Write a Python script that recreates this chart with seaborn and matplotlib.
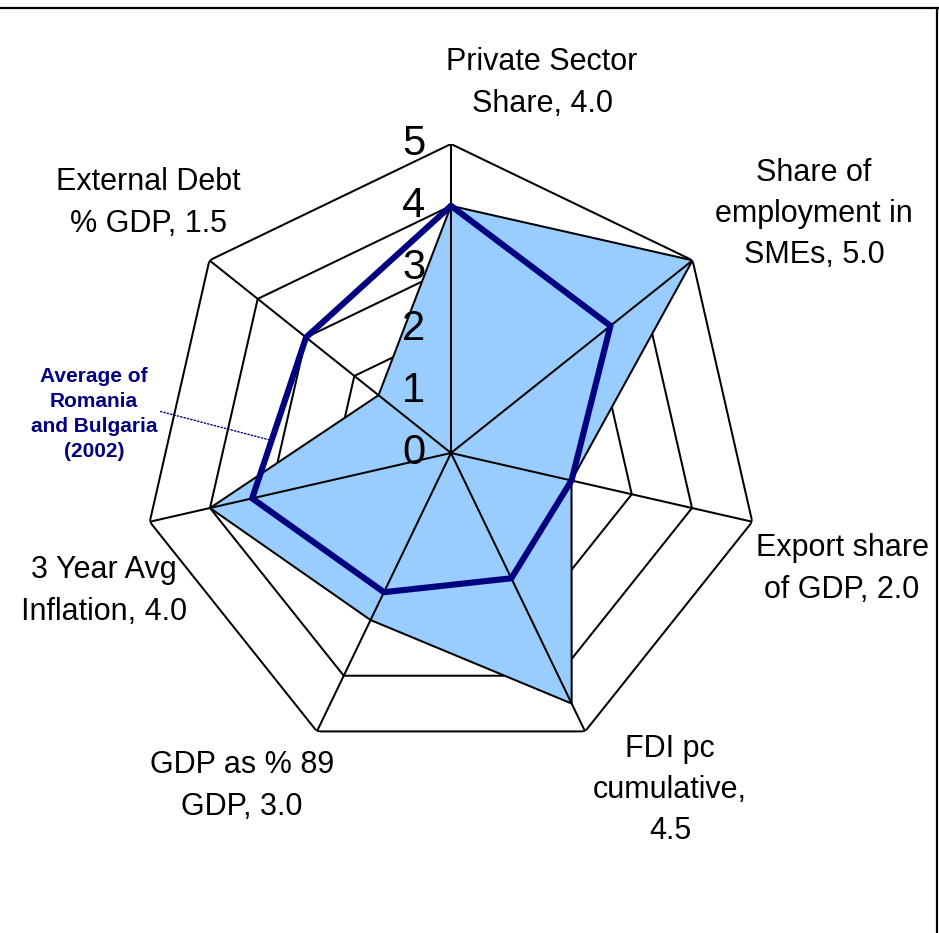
import numpy as np
import pandas as pd
import matplotlib
matplotlib.use("Agg")
import matplotlib.pyplot as plt
import seaborn as sns
from matplotlib.lines import Line2D

# ---------------- data ----------------
categories = ["Private Sector\nShare", "Share of\nemployment in\nSMEs", "Export share\nof GDP",
              "FDI pc\ncumulative", "GDP as % 89\nGDP", "3 Year Avg\nInflation",
              "External Debt\n% GDP"]
label_separators = [", ", ", ", ", ", ",\n", ", ", ", ", ", "]
country_scores = [4.0, 5.0, 2.0, 4.5, 3.0, 4.0, 1.5]
benchmark_scores = [4.0, 3.3, 2.0, 2.25, 2.5, 3.3, 3.0]
benchmark_name = "Average of\nRomania\nand Bulgaria\n(2002)"
radial_ticks = [0, 1, 2, 3, 4, 5]

# ---------------- layout / style ----------------
W, H = 939, 933
center_px = (451, 453)
radius_px = 309
label_centers_px = [(542, 83), (814, 214), (842, 569), (670, 790),
                    (242, 786), (104, 591), (148, 203)]
callout_center_px = (94, 414)
fill_color = "#99CCFF"
navy = "#000080"
grid_lw = 1.45

sns.set_theme(style="white")
plt.rcParams["font.family"] = ["Liberation Sans", "DejaVu Sans"]

fig = plt.figure(figsize=(W / 100, H / 100), dpi=100)
fig.patch.set_facecolor("white")
rect = [(center_px[0] - radius_px) / W, (H - center_px[1] - radius_px) / H,
        2 * radius_px / W, 2 * radius_px / H]
ax = fig.add_axes(rect, projection="polar")
ax.set_theta_offset(np.pi / 2)
ax.set_theta_direction(-1)

n = len(categories)
theta = np.linspace(0, 2 * np.pi, n, endpoint=False)
theta_closed = np.append(theta, 2 * np.pi)
rmax = radial_ticks[-1]

# ring grid (under the fill)
for lvl in radial_ticks[1:]:
    ax.plot(theta_closed, [lvl] * (n + 1), color="black", lw=grid_lw, zorder=1)

# filled series
country_closed = country_scores + country_scores[:1]
ax.fill(theta_closed, country_closed, facecolor=fill_color, edgecolor="black",
        linewidth=grid_lw, zorder=2)

# spokes (over the fill)
for th in theta:
    ax.plot([th, th], [0, rmax], color="black", lw=grid_lw, zorder=3)

# benchmark line
df_line = pd.DataFrame({"theta": theta_closed,
                        "score": benchmark_scores + benchmark_scores[:1]})
sns.lineplot(data=df_line, x="theta", y="score", sort=False, estimator=None,
             ax=ax, color=navy, linewidth=4.4, zorder=4)

ax.set_ylim(0, rmax)
ax.set_xticks([])
ax.set_yticks([])
ax.set_xlabel("")
ax.set_ylabel("")
ax.grid(False)
ax.spines["polar"].set_visible(False)
ax.patch.set_visible(False)

# radial tick labels
for t in radial_ticks:
    ax.annotate(str(t), xy=(0, t), xytext=(-27, 0), textcoords="offset points",
                ha="center", va="center", fontsize=30, color="black",
                annotation_clip=False, zorder=3.5)

# category labels
for cat, sep, val, (px, py) in zip(categories, label_separators, country_scores,
                                   label_centers_px):
    fig.text(px / W, 1 - py / H, f"{cat}{sep}{val:.1f}", ha="center", va="center",
             multialignment="center", fontsize=22, linespacing=1.48, color="black")

# callout for benchmark series
fig.canvas.draw()
p1 = np.array(ax.transData.transform((theta[5], benchmark_scores[5])))
p2 = np.array(ax.transData.transform((theta[6], benchmark_scores[6])))
target = p1 + 0.36 * (p2 - p1)
ax.annotate(benchmark_name, xy=target, xycoords="figure pixels",
            xytext=(callout_center_px[0] / W, 1 - callout_center_px[1] / H),
            textcoords="figure fraction", ha="center", va="center",
            multialignment="center", fontsize=15, fontweight="bold", color=navy,
            linespacing=1.38, annotation_clip=False,
            arrowprops=dict(arrowstyle="-", linestyle=(0, (1, 1.5)), color=navy,
                            lw=1.0, shrinkA=0, shrinkB=0, relpos=(0.82, 0.6)))

# chart frame (top and right edges)
fig.add_artist(Line2D([0, 1], [1 - 8 / H, 1 - 8 / H], transform=fig.transFigure,
                      color="black", lw=1.6))
fig.add_artist(Line2D([1 - 2 / W, 1 - 2 / W], [0, 1 - 8 / H], transform=fig.transFigure,
                      color="black", lw=1.6))

fig.savefig("out.png", dpi=100, facecolor="white")
